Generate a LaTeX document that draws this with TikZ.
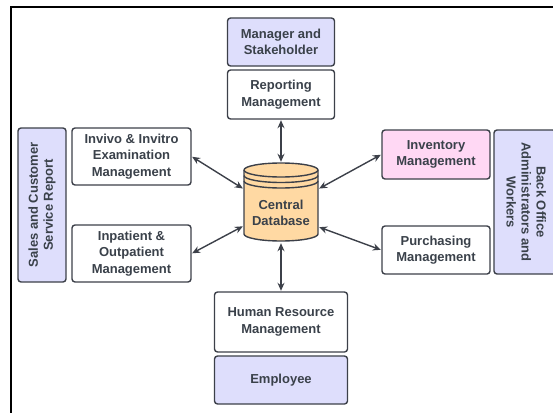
\documentclass[tikz,border=0pt]{standalone}
\usepackage{fontspec}
\setmainfont{Liberation Sans}
\usetikzlibrary{arrows.meta}
\definecolor{linegrey}{HTML}{3C4049}
\definecolor{textgrey}{HTML}{3A414A}
\definecolor{actorblue}{HTML}{DEDEFC}
\definecolor{invpink}{HTML}{FFD8F4}
\definecolor{dborange}{HTML}{FFD9A3}
\tikzset{box/.style={draw=linegrey, line width=1.4pt, rounded corners=3pt,
         fill=white, align=center, inner sep=0pt, text=textgrey,
         font=\bfseries\fontsize{13}{16.5}\selectfont},
         actor/.style={box, fill=actorblue},
         link/.style={{Stealth[length=8pt,width=7pt]}-{Stealth[length=8pt,width=7pt]},
         draw=linegrey, line width=1.4pt, shorten <=0.5pt, shorten >=0.5pt}}

\begin{document}
\begin{tikzpicture}[x=1pt, y=-1pt]
    \useasboundingbox (0,0) rectangle (553,412);
    \draw[line width=2pt] (10.5,420) |- (560,7.5);

    \node[actor, minimum width=107pt, minimum height=48pt] (mgr) at (281,42) {Manager and\\Stakeholder};
    \node[box, minimum width=107pt, minimum height=49pt] (rep) at (281,94.5) {Reporting\\Management};
    \node[actor, minimum width=48pt, minimum height=154pt] (sales) at (42,205)
         {\rotatebox{90}{\begin{tabular}{@{}c@{}}Sales and Customer\\[-1.5pt]Service Report\end{tabular}}};
    \node[box, minimum width=119pt, minimum height=57pt] (exam) at (131.5,156.5) {Invivo \& Invitro\\Examination\\Management};
    \node[box, minimum width=119pt, minimum height=57pt] (patient) at (131.5,253.5) {Inpatient \&\\Outpatient\\Management};
    \node[box, fill=invpink, minimum width=108pt, minimum height=49pt] (inv) at (436,154.5) {Inventory\\Management};
    \node[box, minimum width=108pt, minimum height=48pt] (pur) at (436,250) {Purchasing\\Management};
    \node[actor, minimum width=62pt, minimum height=144pt] (back) at (525,202)
         {\rotatebox{-90}{\begin{tabular}{@{}c@{}}Back Office\\[-1.5pt]Administrators and\\[-1.5pt]Workers\end{tabular}}};
    \node[box, minimum width=133pt, minimum height=60pt] (hr) at (281,322) {Human Resource\\Management};
    \node[actor, minimum width=133pt, minimum height=48pt] (emp) at (281,380) {Employee};

    % database drum
    \fill[dborange] (244,170) -- (244,234) arc[start angle=180, end angle=0, x radius=37, y radius=7]
        -- (318,170) arc[start angle=0, end angle=-180, x radius=37, y radius=7] -- cycle;
    \draw[linegrey, line width=1.4pt] (244,170) -- (244,234) arc[start angle=180, end angle=0, x radius=37, y radius=7]
        -- (318,170) arc[start angle=0, end angle=-180, x radius=37, y radius=7];
    \foreach \dy in {170,175.5,181}
      \draw[linegrey, line width=1.4pt] (244,\dy) arc[start angle=180, end angle=0, x radius=37, y radius=7];
    \node[box, draw=none, fill=none, rounded corners=0pt, minimum width=74pt, minimum height=79pt] (db) at (281,202.5)
         {\rule{0pt}{30pt}Central\\Database};

    \draw[link] (rep.south) -- (db.north);
    \draw[link] (db.south) -- (hr.north);
    \draw[link] (exam.east) -- (db.160);
    \draw[link] (patient.east) -- (db.212);
    \draw[link] (inv.west) -- (db.20);
    \draw[link] (pur.west) -- (db.327);
\end{tikzpicture}
\end{document}
